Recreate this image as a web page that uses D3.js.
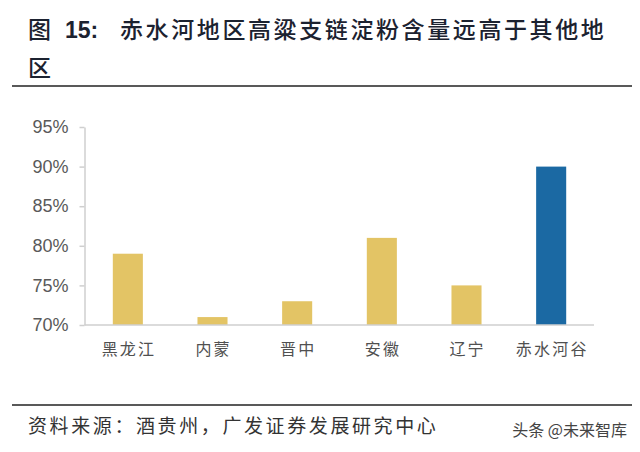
<!DOCTYPE html>
<html><head><meta charset="utf-8">
<script src="https://cdn.jsdelivr.net/npm/d3@7"></script>
<style>body{margin:0;background:#fff;}svg{display:block;}</style>
</head><body>
<svg id="chart" width="640" height="452"></svg>
<script>
const categories = ["黑龙江", "内蒙", "晋中", "安徽", "辽宁", "赤水河谷"];
const values = [79, 71, 73, 81, 75, 90];
const highlight = [false, false, false, false, false, true];
const yTicks = [70, 75, 80, 85, 90, 95];

const svg = d3.select("#chart");
const cjk = "'Noto Sans CJK SC', sans-serif";
const latin = "'Liberation Sans', Arial, sans-serif";

// Title
const titleColor = "#1c2230";
svg.append("text").attr("x", 28).attr("y", 38)
  .attr("font-family", cjk).attr("font-size", 23).attr("fill", titleColor).attr("font-weight", 500).text("图");
svg.append("text").attr("x", 65).attr("y", 38)
  .attr("font-family", latin).attr("font-size", 23).attr("fill", titleColor).attr("font-weight", "bold").text("15:");
svg.append("text").attr("x", 120).attr("y", 38).attr("letter-spacing", 2.6)
  .attr("font-family", cjk).attr("font-size", 23).attr("fill", titleColor).attr("font-weight", 500).text("赤水河地区高粱支链淀粉含量远高于其他地");
svg.append("text").attr("x", 28).attr("y", 76)
  .attr("font-family", cjk).attr("font-size", 23).attr("fill", titleColor).attr("font-weight", 500).text("区");

svg.append("line").attr("x1", 12).attr("x2", 632).attr("y1", 86).attr("y2", 86)
  .attr("stroke", "#222").attr("stroke-width", 1.5);

// Chart
const x = d3.scaleBand().domain(categories).range([85.5, 593.5]).paddingInner(0.645).paddingOuter(0.3225);
const y = d3.scaleLinear().domain([70, 95]).range([325, 127]);

svg.append("g").selectAll("rect").data(values).join("rect")
  .attr("x", (d, i) => x(categories[i]))
  .attr("width", x.bandwidth())
  .attr("y", d => y(d))
  .attr("height", d => y(70) - y(d))
  .attr("fill", (d, i) => highlight[i] ? "#1b69a3" : "#e3c465");

const yAxis = svg.append("g").attr("transform", "translate(84.5,0)")
  .call(d3.axisLeft(y).tickValues(yTicks).tickSize(5).tickSizeOuter(0).tickPadding(11).tickFormat(d => d + "%"));
yAxis.select(".domain").attr("stroke", "#cfcfcf").attr("stroke-width", 1.5);
yAxis.selectAll(".tick line").attr("stroke", "#cfcfcf").attr("stroke-width", 1.5);
yAxis.selectAll("text").attr("font-family", latin).attr("font-size", 18).attr("fill", "#595959");

const xAxis = svg.append("g").attr("transform", "translate(0,325)");
xAxis.append("line").attr("x1", 84.5).attr("x2", 594).attr("stroke", "#cfcfcf").attr("stroke-width", 1.5);
xAxis.call(g => g.selectAll("text.cat").data(categories).join("text").attr("class", "cat")
  .attr("x", d => x(d) + x.bandwidth() / 2).attr("y", 30).attr("text-anchor", "middle")
  .attr("font-family", cjk).attr("font-size", 16).attr("fill", "#505050").attr("letter-spacing", 2.2)
  .attr("dx", 1.1).text(d => d));

// Footer
svg.append("line").attr("x1", 12).attr("x2", 632).attr("y1", 405).attr("y2", 405)
  .attr("stroke", "#222").attr("stroke-width", 1.5);
svg.append("text").attr("x", 28).attr("y", 433).attr("font-family", cjk).attr("font-size", 19)
  .attr("fill", "#333").attr("letter-spacing", 2.6).text("资料来源：酒贵州，广发证券发展研究中心");
svg.append("text").attr("x", 627).attr("y", 436).attr("text-anchor", "end").attr("font-family", cjk).attr("font-size", 16)
  .attr("fill", "#444").text("头条 @未来智库");
</script>
</body></html>
